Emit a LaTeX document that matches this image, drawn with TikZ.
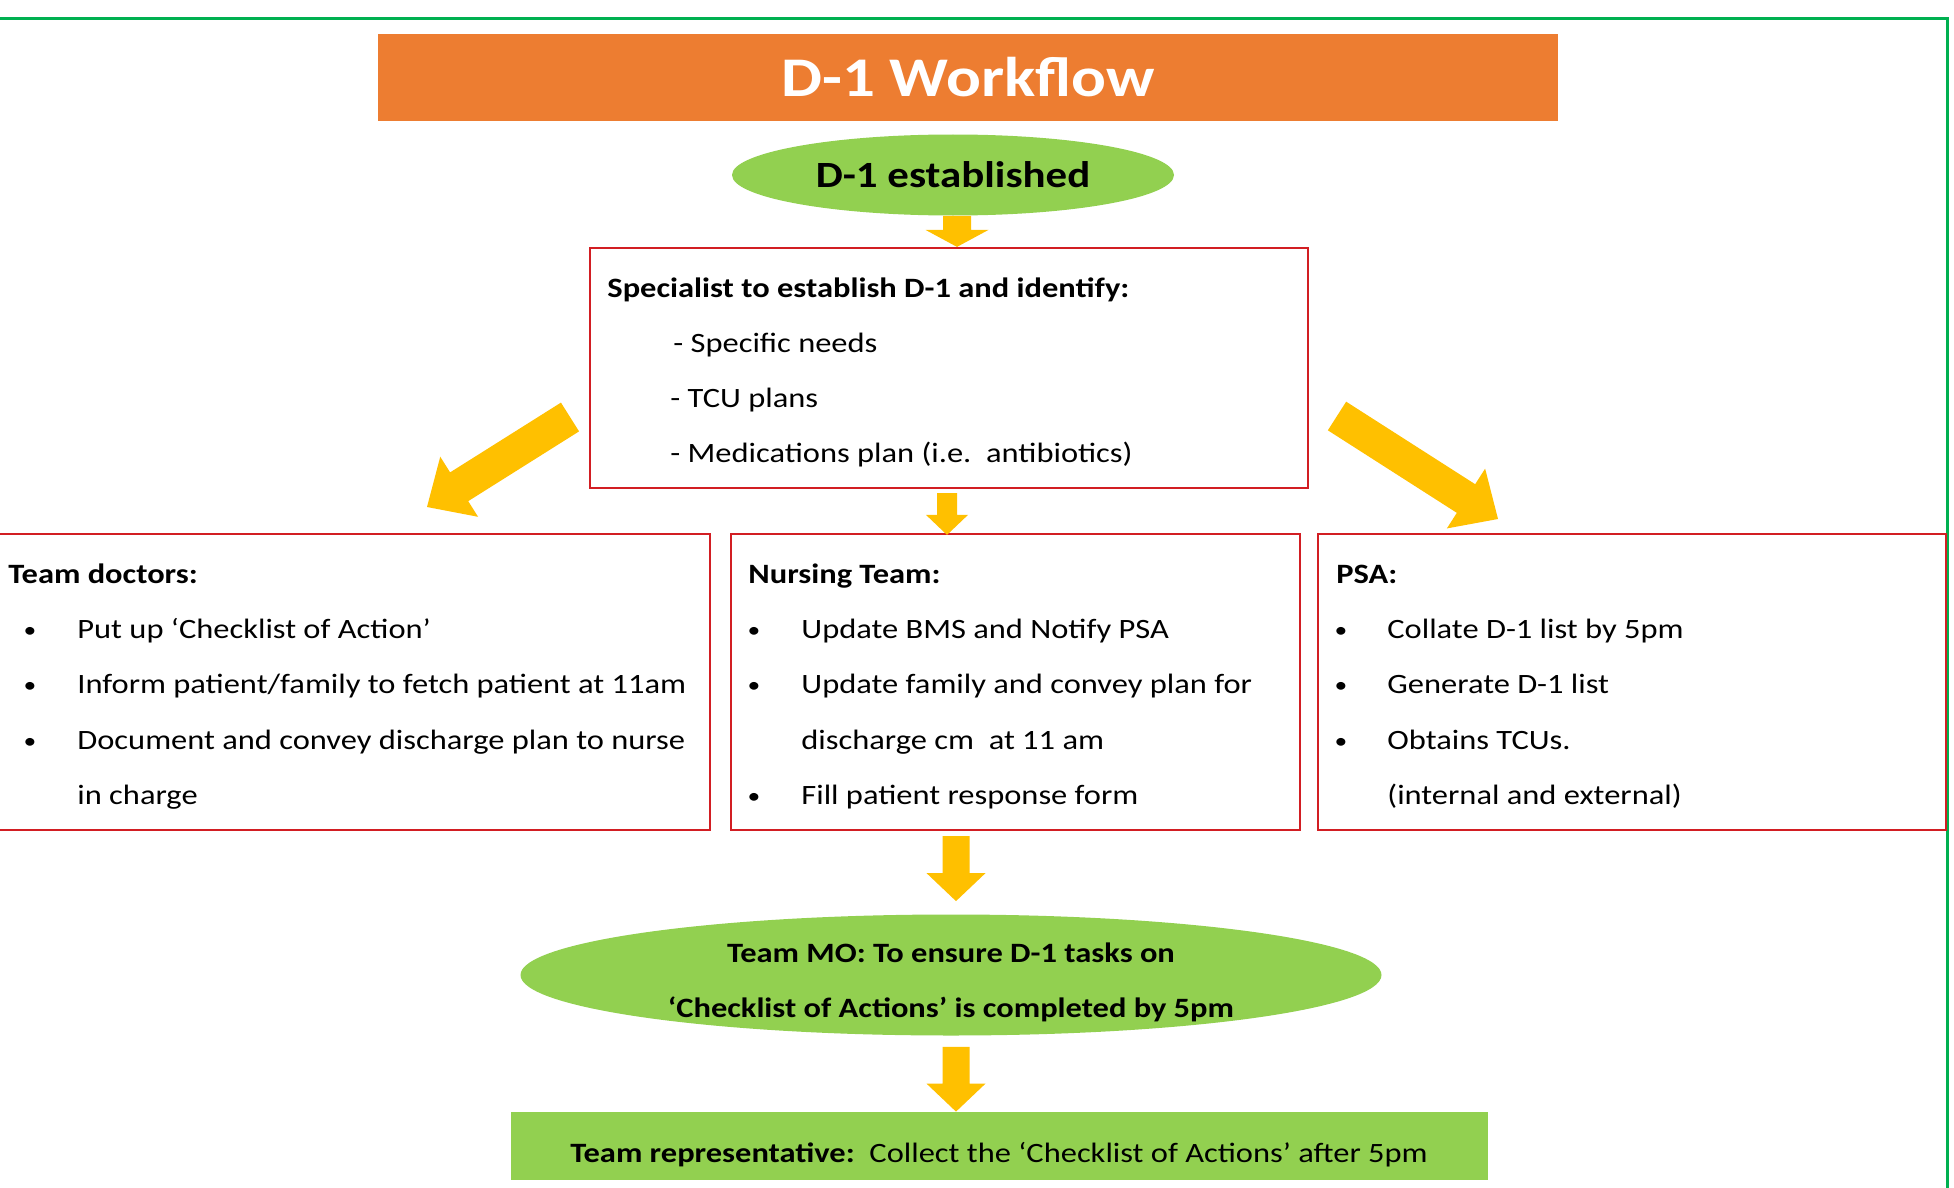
\documentclass[tikz,border=0pt]{standalone}
\usepackage{fontspec}
\setmainfont{Carlito}[FakeStretch=1.16]
\usetikzlibrary{calc,shapes.geometric}
\definecolor{orangec}{HTML}{ED7D31}
\definecolor{greenc}{HTML}{92D050}
\definecolor{arrowc}{HTML}{FFC000}
\definecolor{framec}{HTML}{00B050}
\definecolor{redc}{RGB}{210,30,35}
\newcommand\bodyfont{\fontsize{14}{16}\selectfont}
% #1 from, #2 to, #3 shaft half width, #4 head half width, #5 head length
\newcommand\fatarrow[5]{%
  \fill[arrowc] let \p1=(#1), \p2=(#2), \n1={atan2(\y2-\y1,\x2-\x1)} in
    ($(\p1)+(\n1+90:#3)$) -- ($(\p2)+(\n1+180:#5)+(\n1+90:#3)$)
    -- ($(\p2)+(\n1+180:#5)+(\n1+90:#4)$) -- (\p2)
    -- ($(\p2)+(\n1+180:#5)+(\n1-90:#4)$) -- ($(\p2)+(\n1+180:#5)+(\n1-90:#3)$)
    -- ($(\p1)+(\n1-90:#3)$) -- cycle;}
\begin{document}
\begin{tikzpicture}[x=0.5pt,y=-0.5pt,
  redbox/.style={draw=redc,line width=1.1pt,rectangle,inner sep=0pt},
  txt/.style={inner sep=0pt,anchor=base west,font=\bodyfont},
  ctxt/.style={inner sep=0pt,anchor=base,font=\bodyfont\bfseries},
  bul/.style={inner sep=0pt,anchor=base,font=\fontsize{11}{13}\selectfont},
  hd/.style={inner sep=0pt,anchor=base west,font=\bodyfont\bfseries}]
\useasboundingbox (0,0) rectangle (1954,1188);
\fill[white] (0,0) rectangle (1954,1188);
\draw[framec,line width=1.5pt] (-10,19) rectangle (1947,1250);

% title
\node[fill=orangec,minimum width=590pt,minimum height=43.5pt,inner sep=0pt,
  text=white,font=\fontsize{28}{30}\selectfont\bfseries] (title) at (968,77.5) {D-1 Workflow};

% D-1 established
\node[ellipse,fill=greenc,minimum width=221pt,minimum height=40.5pt,inner sep=0pt,
  font=\fontsize{18.5}{20}\selectfont\bfseries] (est) at (953,175) {D-1 established};

% specialist box
\node[redbox,minimum width=359pt,minimum height=120pt] (spec) at (949,368) {};
\node[hd] (spec-h) at (607,297) {Specialist to establish D-1 and identify:};
\node[txt] (spec-1) at (673,352) {- Specific needs};
\node[txt] (spec-2) at (670,407) {- TCU plans};
\node[txt] (spec-3) at (670,462) {- Medications plan (i.e.\ \ antibiotics)};

% team doctors
\node[redbox,minimum width=357.5pt,minimum height=148pt] (doc) at (352.5,682) {};
\node[hd] (doc-h) at (8,583) {Team doctors:};
\node[bul] (doc-b1) at (30,637) {•};
\node[bul] (doc-b2) at (30,692) {•};
\node[bul] (doc-b3) at (30,748) {•};
\node[txt] (doc-1) at (77,638) {Put up ‘Checklist of Action’};
\node[txt] (doc-2) at (77,693) {Inform patient/family to fetch patient at 11am};
\node[txt] (doc-3) at (77,749) {Document and convey discharge plan to nurse};
\node[txt] (doc-4) at (77,804) {in charge};

% nursing team
\node[redbox,minimum width=284.5pt,minimum height=148pt] (nur) at (1015.5,682) {};
\node[hd] (nur-h) at (748,583) {Nursing Team:};
\node[bul] (nur-b1) at (754,637) {•};
\node[bul] (nur-b2) at (754,692) {•};
\node[bul] (nur-b3) at (754,803) {•};
\node[txt] (nur-1) at (801,638) {Update BMS and Notify PSA};
\node[txt] (nur-2) at (801,693) {Update family and convey plan for};
\node[txt] (nur-3) at (801,749) {discharge cm\ \ at 11 am};
\node[txt] (nur-4) at (801,804) {Fill patient response form};

% PSA
\node[redbox,minimum width=314pt,minimum height=148pt] (psa) at (1632,682) {};
\node[hd] (psa-h) at (1336,583) {PSA:};
\node[bul] (psa-b1) at (1341,637) {•};
\node[bul] (psa-b2) at (1341,692) {•};
\node[bul] (psa-b3) at (1341,748) {•};
\node[txt] (psa-1) at (1387,638) {Collate D-1 list by 5pm};
\node[txt] (psa-2) at (1387,693) {Generate D-1 list};
\node[txt] (psa-3) at (1387,749) {Obtains TCUs.};
\node[txt] (psa-4) at (1387,804) {(internal and external)};

% Team MO ellipse
\node[ellipse,fill=greenc,minimum width=430.5pt,minimum height=60.5pt,inner sep=0pt] (mo) at (951,975) {};
\node[ctxt] (mo-1) at (951,962) {Team MO: To ensure D-1 tasks on};
\node[ctxt] (mo-2) at (951,1017) {‘Checklist of Actions’ is completed by 5pm};

% representative
\node[fill=greenc,minimum width=488.5pt,minimum height=34pt,inner sep=0pt] (rep) at (999.5,1146) {};
\node[inner sep=0pt,anchor=base,font=\bodyfont] (rep-t) at (999,1162)
  {\textbf{Team representative:}\ \ Collect the ‘Checklist of Actions’ after 5pm};

% arrows
\coordinate (la1) at (570,417);
\coordinate (la2) at (427,507);
\coordinate (ra1) at (1337,416);
\coordinate (ra2) at (1498,519);
\fatarrow{$(est.south)+(4,0)$}{$(est.south |- spec.north)+(4,0)$}{7pt}{15.75pt}{8.5pt}
\fatarrow{$(spec.south)+(-2,4)$}{$(spec.south |- nur.north)+(-2,2)$}{5pt}{10.5pt}{10pt}
\fatarrow{la1}{la2}{8.5pt}{17.75pt}{19pt}
\fatarrow{ra1}{ra2}{8.5pt}{17.75pt}{19pt}
\fatarrow{$(mo.north |- nur.south)+(5,5)$}{$(mo.north)+(5,-13)$}{6.75pt}{14.75pt}{14pt}
\fatarrow{$(mo.south)+(5,11)$}{$(mo.south |- rep.north)+(5,0)$}{6.75pt}{14.75pt}{14pt}
\end{tikzpicture}
\end{document}
